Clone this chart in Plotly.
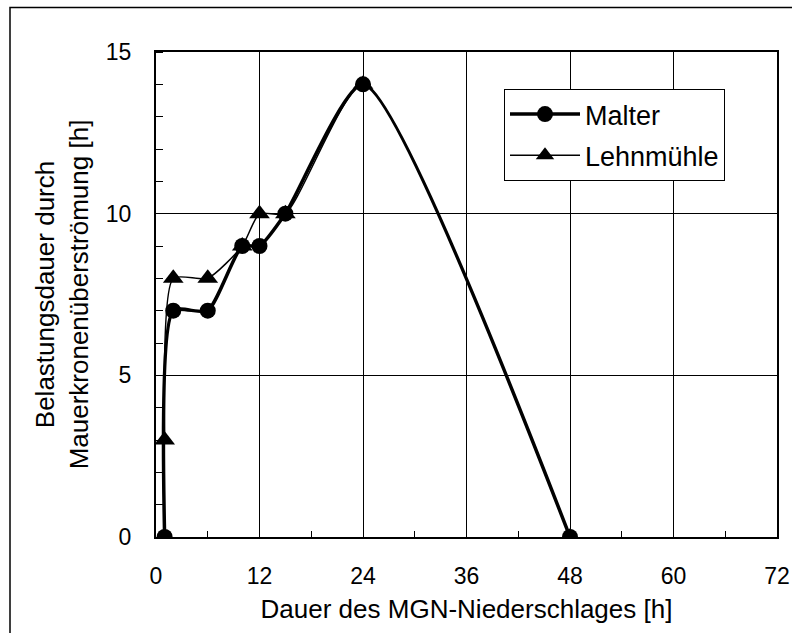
import plotly.graph_objects as go

# Data
dauer = [1, 2, 6, 10, 12, 15, 24, 48]
malter = [0, 7, 7, 9, 9, 10, 14, 0]
lehnmuehle = [3, 8, 8, 9, 10, 10, 14, 0]

x_ticks = [0, 12, 24, 36, 48, 60, 72]
y_ticks = [0, 5, 10, 15]

FONT = "Liberation Sans, Arial, sans-serif"

fig = go.Figure()
fig.add_trace(go.Scatter(
    x=dauer, y=lehnmuehle, name="Lehnmühle", mode="lines+markers",
    line=dict(color="black", width=1.5, shape="spline", smoothing=0.6),
    marker=dict(symbol="triangle-up", size=18, color="black"),
    legendrank=2, legendgroup="b"))
fig.add_trace(go.Scatter(
    x=dauer, y=malter, name="Malter", mode="lines+markers",
    line=dict(color="black", width=3.5, shape="spline", smoothing=0.6),
    marker=dict(symbol="circle", size=16, color="black"),
    legendrank=1, legendgroup="a"))

L, R, T, B = 156, 15, 52, 96
W, H = 792, 633
pw = W - L - R
ph = H - T - B

fig.update_layout(
    width=W, height=H,
    margin=dict(l=L, r=R, t=T, b=B, autoexpand=False),
    paper_bgcolor="white", plot_bgcolor="white",
    font=dict(family=FONT, size=22, color="black"),
    showlegend=True,
    legend=dict(x=(504 - L) / pw, y=(H - B - 89) / ph, xanchor="left", yanchor="top",
                bgcolor="white", bordercolor="black", borderwidth=1,
                font=dict(size=27), itemwidth=70, tracegroupgap=3,
                traceorder="grouped"),
    xaxis=dict(range=[0, 72], tickvals=x_ticks, ticktext=[str(v) for v in x_ticks],
               showgrid=True, gridcolor="black", gridwidth=1,
               showline=True, linecolor="black", linewidth=2, mirror=True,
               ticks="", zeroline=False,
               tickfont=dict(size=23),
               minor=dict(tickvals=[6, 18, 30, 42, 54, 66], ticks="inside", ticklen=6,
                          tickcolor="black", tickwidth=1, showgrid=False),
               title=dict(text="Dauer des MGN-Niederschlages [h]", standoff=12),
               ticklabelstandoff=17),
    yaxis=dict(range=[0, 15], tickvals=y_ticks, ticktext=[str(v) for v in y_ticks],
               showgrid=True, gridcolor="black", gridwidth=1,
               showline=True, linecolor="black", linewidth=2, mirror=True,
               ticks="", zeroline=False,
               tickfont=dict(size=23),
               minor=dict(dtick=1, ticks="inside", ticklen=7, tickcolor="black",
                          tickwidth=1, showgrid=False),
               title=dict(text="Belastungsdauer durch<br>Mauerkronenüberströmung [h]", standoff=10),
               ticklabelstandoff=18),
)

# Outer chart frame (partially outside the visible page)
fig.add_shape(type="rect", xref="paper", yref="paper",
              x0=(10 - L) / pw, x1=(800 - L) / pw,
              y0=(H - B - 640) / ph, y1=(H - B - 7.5) / ph,
              line=dict(color="black", width=1.5), layer="below")

fig.write_html("out.html")
